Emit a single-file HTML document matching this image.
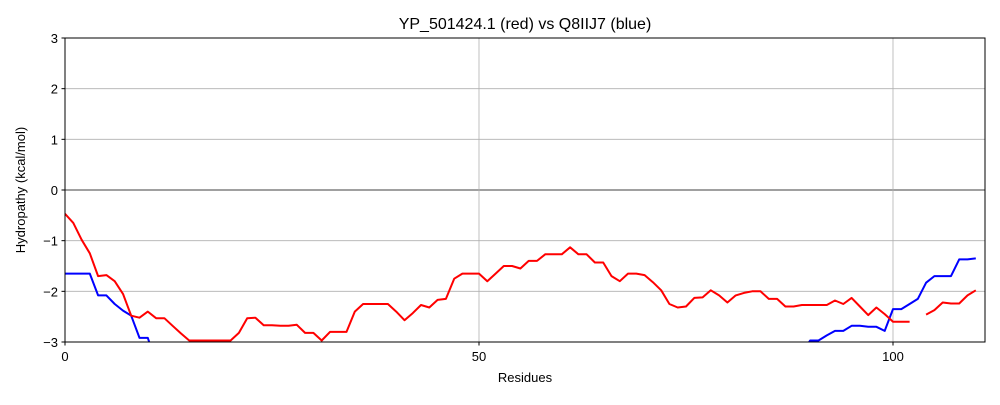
<!DOCTYPE html>
<html><head><meta charset="utf-8"><style>
body{margin:0;background:#fff;font-family:"Liberation Sans",sans-serif}
</style></head><body>
<svg id="c" width="1000" height="400">
<defs><clipPath id="pc"><rect x="65" y="38" width="920" height="304"/></clipPath></defs>
</svg>
<script>
const xTicks=[0,50,100];
const yTicks=[-3,-2,-1,0,1,2,3];
const redVals=[-0.47,-0.65,-0.98,-1.25,-1.7,-1.68,-1.8,-2.05,-2.48,-2.52,-2.4,-2.53,-2.53,-2.68,-2.83,-2.97,-2.97,-2.97,-2.97,-2.97,-2.97,-2.82,-2.53,-2.52,-2.67,-2.67,-2.68,-2.68,-2.66,-2.82,-2.82,-2.97,-2.8,-2.8,-2.8,-2.4,-2.25,-2.25,-2.25,-2.25,-2.4,-2.57,-2.43,-2.27,-2.32,-2.17,-2.15,-1.75,-1.65,-1.65,-1.65,-1.8,-1.65,-1.5,-1.5,-1.55,-1.4,-1.4,-1.27,-1.27,-1.27,-1.13,-1.27,-1.27,-1.43,-1.43,-1.7,-1.8,-1.65,-1.65,-1.68,-1.82,-1.98,-2.25,-2.32,-2.3,-2.13,-2.12,-1.98,-2.08,-2.22,-2.08,-2.03,-2.0,-2.0,-2.15,-2.15,-2.3,-2.3,-2.27,-2.27,-2.27,-2.27,-2.18,-2.25,-2.13,-2.3,-2.47,-2.32,-2.45,-2.6,-2.6,-2.6,null,-2.46,-2.37,-2.22,-2.24,-2.24,-2.08,-1.98];
const blueVals=[-1.65,-1.65,-1.65,-1.65,-2.08,-2.08,-2.25,-2.38,-2.48,-2.92,-2.92,-3.4,null,null,null,null,null,null,null,null,null,null,null,null,null,null,null,null,null,null,null,null,null,null,null,null,null,null,null,null,null,null,null,null,null,null,null,null,null,null,null,null,null,null,null,null,null,null,null,null,null,null,null,null,null,null,null,null,null,null,null,null,null,null,null,null,null,null,null,null,null,null,null,null,null,null,null,null,null,-3.2,-2.97,-2.97,-2.87,-2.78,-2.78,-2.68,-2.68,-2.7,-2.7,-2.78,-2.35,-2.35,-2.25,-2.15,-1.83,-1.7,-1.7,-1.7,-1.37,-1.37,-1.35];
const NS="http://www.w3.org/2000/svg";
const svg=document.getElementById('c');
const X0=65,X1=985,Y0=38,Y1=342;
const sx=v=>X0+v*8.28, sy=v=>Y1-(v+3)*(Y1-Y0)/6;
function mk(t,a,p){const e=document.createElementNS(NS,t);for(const k in a)e.setAttribute(k,a[k]);(p||svg).appendChild(e);return e;}
yTicks.forEach(v=>{
 const l=mk('line',{x1:X0,x2:X1,y1:sy(v),y2:sy(v),stroke:v===0?'#000':'#b0b0b0','stroke-width':0.8});
 
 
 mk('line',{x1:X0-3.5,x2:X0,y1:sy(v),y2:sy(v),stroke:'#000'});
 const t=mk('text',{x:X0-7,y:sy(v)+5,'text-anchor':'end','font-size':13});t.textContent=String(v).replace('-','\u2212');
 
 
});
xTicks.forEach(v=>{
 const l=mk('line',{x1:sx(v),x2:sx(v),y1:Y0,y2:Y1,stroke:'#b0b0b0','stroke-width':0.8});
 
 
 mk('line',{x1:sx(v),x2:sx(v),y1:Y1,y2:Y1+3.5,stroke:'#000'});
 const t=mk('text',{x:sx(v),y:Y1+19,'text-anchor':'middle','font-size':13});t.textContent=v;
 
 
});
function series(vals,color,name){
 let d='',pen=false;
 vals.forEach((v,i)=>{if(v===null){pen=false;return;}d+=(pen?'L':'M')+sx(i).toFixed(1)+','+sy(v).toFixed(1);pen=true;});
 const p=mk('path',{d:d,fill:'none',stroke:color,'stroke-width':2,'clip-path':'url(#pc)','stroke-linejoin':'round'});
 
 
}
series(blueVals,'#0000ff','blue-series-q8iij7');
series(redVals,'#ff0000','red-series-yp501424');
const fr=mk('rect',{x:X0,y:Y0,width:X1-X0,height:Y1-Y0,fill:'none',stroke:'#000','stroke-width':1});


const tt=mk('text',{x:525,y:29,'text-anchor':'middle','font-size':16});tt.textContent='YP_501424.1 (red) vs Q8IIJ7 (blue)';


const xl=mk('text',{x:525,y:382,'text-anchor':'middle','font-size':13});xl.textContent='Residues';


const yl=mk('text',{x:0,y:0,'text-anchor':'middle','font-size':13,transform:'translate(25,190) rotate(-90)'});yl.textContent='Hydropathy (kcal/mol)';


</script>
</body></html>
